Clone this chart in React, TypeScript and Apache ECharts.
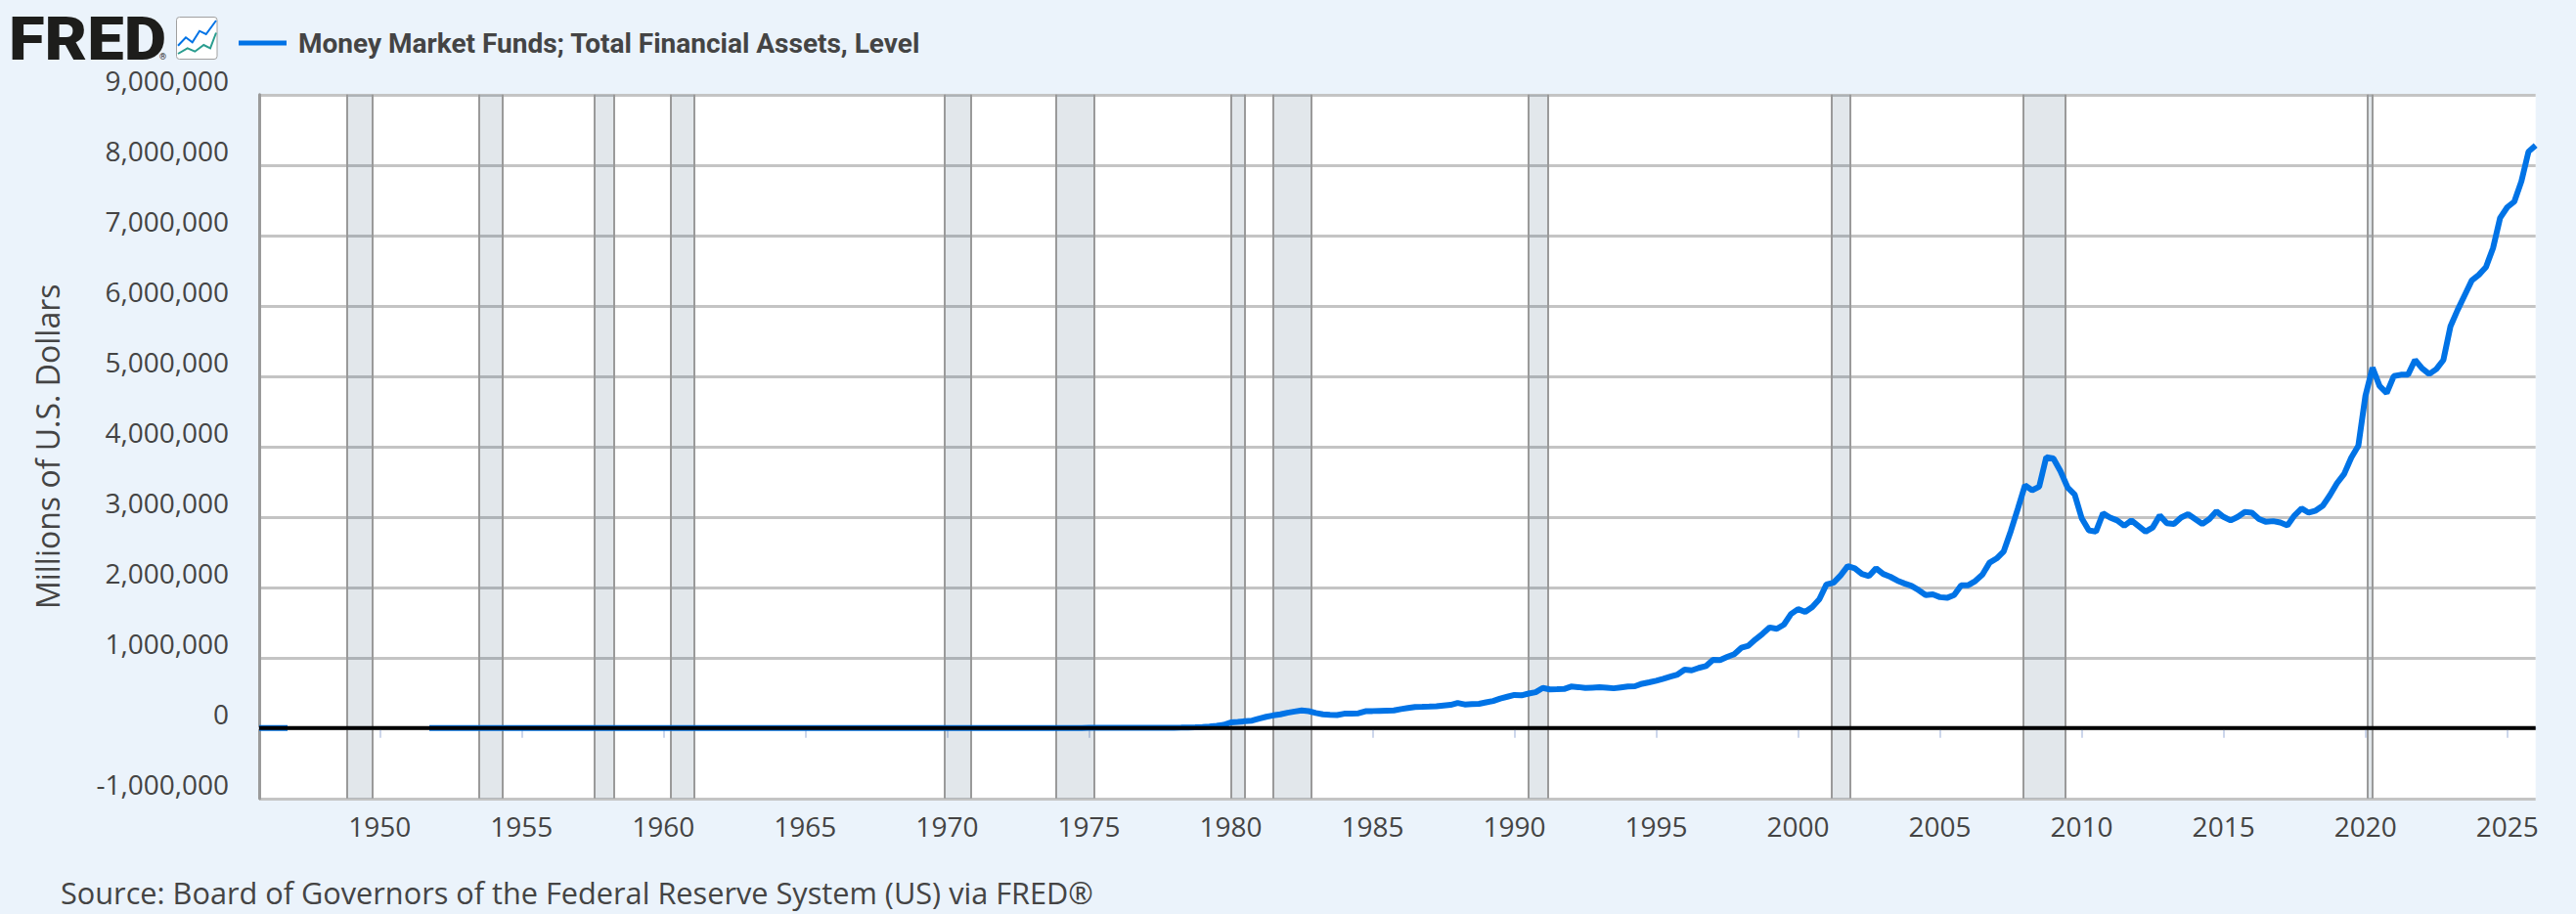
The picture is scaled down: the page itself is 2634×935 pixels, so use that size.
import React, { useEffect, useRef } from "react";
import * as echarts from "echarts";

const TITLE = "Money Market Funds; Total Financial Assets, Level";
const Y_NAME = "Millions of U.S. Dollars";
const SOURCE = "Source: Board of Governors of the Federal Reserve System (US) via FRED®";

const X_MIN = 1945.75;
const X_MAX = 2026.0;
const X_TICKS = [1950, 1955, 1960, 1965, 1970, 1975, 1980, 1985, 1990, 1995, 2000, 2005, 2010, 2015, 2020, 2025];
const Y_MIN = -1000000;
const Y_MAX = 9000000;
const Y_STEP = 1000000;

// stretches where the series sits at zero (decimal years, quarter-start dates)
const ZERO_SEGMENTS: [number, number][] = [
  [1945.75, 1946.75],
  [1951.75, 1973.75],
];

// quarterly values in billions of dollars, starting 1974 Q1
const Q_START = 1974;
const Q_1970S = [1, 1.5, 2, 2.4, 3, 3.4, 3.6, 3.7, 3.6, 3.5, 3.6, 3.7, 3.7, 3.8, 3.9, 3.9, 5, 6.5, 8.5, 10.8, 15, 22, 33, 45];
const Q_1980S = [
  80, 88, 97, 105, 135, 160, 180, 195, 218, 235, 250, 240, 215, 195, 188, 185, 204, 206, 210, 240,
  242, 245, 248, 250, 270, 285, 300, 302, 305, 310, 320, 330, 357, 335, 340, 345, 365, 385, 420, 445,
];
const Q_1990S = [
  470, 465, 490, 510, 570, 550, 552, 555, 590, 582, 570, 575, 580, 575, 565, 578, 590, 595, 630, 650,
  672, 700, 730, 760, 830, 820, 855, 880, 970, 965, 1010, 1050, 1140, 1170, 1260, 1340, 1430, 1410, 1470, 1620,
];
const Q_2000S = [
  1690, 1650, 1720, 1830, 2040, 2065, 2170, 2300, 2270, 2190, 2160, 2270, 2190, 2150, 2095, 2055, 2020, 1960, 1890, 1900,
  1860, 1850, 1890, 2030, 2030, 2090, 2180, 2350, 2410, 2510, 2800, 3120, 3450, 3380, 3430, 3850, 3830, 3650, 3420, 3320,
];
const Q_2010S = [
  2980, 2810, 2790, 3050, 2990, 2950, 2875, 2950, 2870, 2790, 2850, 3020, 2910, 2900, 2990, 3040, 2970, 2900, 2970, 3080,
  3000, 2950, 3000, 3070, 3060, 2970, 2930, 2940, 2920, 2880, 3020, 3120, 3060, 3090, 3160, 3310, 3480, 3610, 3840, 4010,
];
const Q_2020S = [
  4720, 5120, 4860, 4760, 5000, 5020, 5020, 5230, 5110, 5030, 5100, 5230, 5710, 5940, 6150, 6360, 6440, 6550, 6820, 7250,
  7400, 7480, 7770, 8190, 8280,
];

// NBER recessions (start month, end month)
const RECESSIONS: [string, string][] = [
  ["1948-11", "1949-10"],
  ["1953-07", "1954-05"],
  ["1957-08", "1958-04"],
  ["1960-04", "1961-02"],
  ["1969-12", "1970-11"],
  ["1973-11", "1975-03"],
  ["1980-01", "1980-07"],
  ["1981-07", "1982-11"],
  ["1990-07", "1991-03"],
  ["2001-03", "2001-11"],
  ["2007-12", "2009-06"],
  ["2020-02", "2020-04"],
];

const BLUE = "#0073e6";
const BG = "#ebf3fb";
const TEXT = "#444444";

function monthToYear(s: string): number {
  const [y, m] = s.split("-").map(Number);
  return y + (m - 1) / 12;
}

function buildSeries(): (number | null)[][] {
  const pts: (number | null)[][] = [];
  pts.push([ZERO_SEGMENTS[0][0], 0], [ZERO_SEGMENTS[0][1], 0]);
  pts.push([ZERO_SEGMENTS[0][1] + 0.25, null]);
  pts.push([ZERO_SEGMENTS[1][0], 0], [ZERO_SEGMENTS[1][1], 0]);
  const q = [...Q_1970S, ...Q_1980S, ...Q_1990S, ...Q_2000S, ...Q_2010S, ...Q_2020S];
  q.forEach((v, i) => pts.push([Q_START + i * 0.25, v * 1000]));
  return pts;
}

export default function App() {
  const ref = useRef<HTMLDivElement>(null);

  useEffect(() => {
    if (!ref.current) return;
    const chart = echarts.init(ref.current, undefined, { renderer: "svg" });
    const recAreas = RECESSIONS.map(([a, b]) => [{ xAxis: monthToYear(a) }, { xAxis: monthToYear(b) }]);
    const recEdges = RECESSIONS.flatMap(([a, b]) => [{ xAxis: monthToYear(a) }, { xAxis: monthToYear(b) }]);

    chart.setOption({
      animation: false,
      backgroundColor: BG,
      grid: {
        left: 265,
        right: 41.3,
        top: 96.8,
        bottom: 118.2,
        show: true,
        backgroundColor: "#ffffff",
        borderWidth: 0,
        containLabel: false,
      },
      legend: {
        data: [TITLE],
        left: 239,
        top: 25,
        icon: "rect",
        itemWidth: 49,
        itemHeight: 5,
        selectedMode: false,
        textStyle: {
          fontFamily: "Roboto",
          fontWeight: "bold",
          fontSize: 28,
          color: TEXT,
          lineHeight: 28,
          padding: [0, 0, 0, 7],
        },
      },
      xAxis: {
        type: "value",
        min: X_MIN,
        max: X_MAX,
        offset: 2,
        splitLine: { show: false },
        axisLine: { show: true, lineStyle: { color: "#ccd6eb", width: 2 } },
        axisTick: {
          show: true,
          customValues: X_TICKS,
          length: 10,
          lineStyle: { color: "#ccd6eb", width: 2 },
        },
        axisLabel: {
          customValues: X_TICKS,
          fontFamily: "Open Sans",
          fontSize: 28,
          color: TEXT,
          margin: 12,
          formatter: (v: number) => String(Math.round(v)),
        },
      },
      yAxis: {
        type: "value",
        min: Y_MIN,
        max: Y_MAX,
        interval: Y_STEP,
        name: Y_NAME,
        nameLocation: "middle",
        nameGap: 201,
        nameTextStyle: { fontFamily: "Open Sans", fontSize: 32, color: TEXT },
        axisLine: { show: true, lineStyle: { color: "#9a9a9a", width: 3 } },
        axisTick: { show: false },
        splitLine: { show: true, lineStyle: { color: "#c4c4c4", width: 3 } },
        axisLabel: {
          fontFamily: "Open Sans",
          fontSize: 28,
          color: TEXT,
          margin: 31,
          verticalAlign: "bottom",
          lineHeight: 29,
          formatter: (v: number) => v.toLocaleString("en-US"),
        },
      },
      series: [
        {
          name: TITLE,
          type: "line",
          color: BLUE,
          data: buildSeries(),
          showSymbol: false,
          symbol: "none",
          connectNulls: false,
          z: 2,
          lineStyle: { color: BLUE, width: 6 },
          emphasis: { disabled: true },
          markArea: {
            silent: true,
            z: 1,
            label: { show: false },
            itemStyle: { color: "rgba(13,55,88,0.12)" },
            data: recAreas,
          },
          markLine: {
            silent: true,
            z: 1,
            symbol: "none",
            label: { show: false },
            lineStyle: { color: "#9a9a9a", width: 2, type: "solid" },
            data: recEdges,
          },
        },
        {
          name: "zero",
          type: "line",
          data: [
            [X_MIN, 0],
            [X_MAX, 0],
          ],
          showSymbol: false,
          symbol: "none",
          silent: true,
          z: 4,
          lineStyle: { color: "#000000", width: 4 },
          emphasis: { disabled: true },
        },
      ],
      graphic: [
        {
          type: "text",
          x: 9,
          y: 39.5,
          scaleX: 1.08,
          style: {
            text: "FRED",
            fontFamily: "Roboto",
            fontWeight: 900,
            fontSize: 62,
            fill: "#1d1d1b",
            align: "left",
            verticalAlign: "middle",
          },
        },
        {
          type: "text",
          x: 163,
          y: 58,
          style: { text: "®", fontFamily: "Roboto", fontSize: 9, fill: "#1d1d1b", verticalAlign: "middle" },
        },
        {
          type: "rect",
          shape: { x: 180.5, y: 17.5, width: 41.5, height: 43, r: 3 },
          style: { fill: "#ffffff", stroke: "#a0a0a0", lineWidth: 1 },
        },
        {
          type: "polyline",
          shape: {
            points: [
              [182, 46.7],
              [190, 38.3],
              [196.7, 43.3],
              [204, 31.7],
              [210.7, 35],
              [221, 21],
            ],
          },
          style: { stroke: BLUE, lineWidth: 2, fill: "none" },
        },
        {
          type: "polyline",
          shape: {
            points: [
              [182, 55],
              [191.7, 49.3],
              [199.3, 52.7],
              [208.3, 46],
              [215, 49.3],
              [221, 33.5],
            ],
          },
          style: { stroke: "#2a9d8f", lineWidth: 2, fill: "none" },
        },
        {
          type: "text",
          x: 62,
          y: 913,
          style: {
            text: SOURCE,
            fontFamily: "Open Sans",
            fontSize: 30.7,
            fill: TEXT,
            align: "left",
            verticalAlign: "middle",
          },
        },
      ],
    });
    return () => chart.dispose();
  }, []);

  return (
    <div style={{ position: "fixed", left: 0, top: 0, width: 2634, height: 935, background: BG }}>
      <div ref={ref} style={{ width: 2634, height: 935 }} />
    </div>
  );
}
